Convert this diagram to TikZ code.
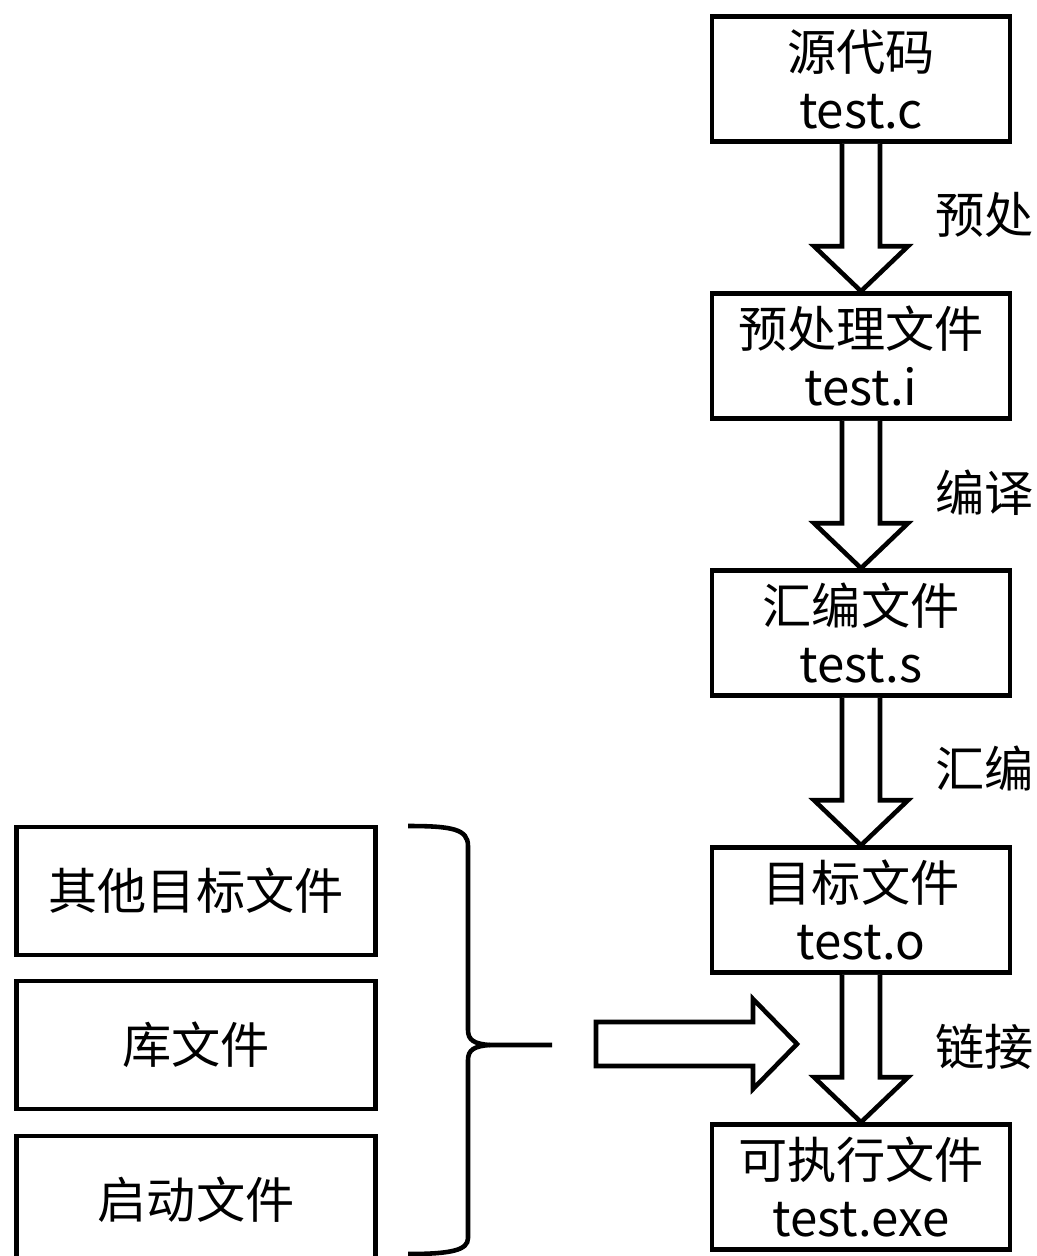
\documentclass[tikz,border=0pt]{standalone}
\usepackage{fontspec}
\setmainfont{Noto Sans CJK SC}
\usetikzlibrary{calc}

\tikzset{
    filebox/.style={draw, line width=2.6pt, minimum width=5.96cm, minimum height=2.5cm,
        align=center, inner sep=0pt, font=\fontsize{28}{33}\selectfont},
    sidebox/.style={filebox, minimum width=7.18cm, minimum height=2.56cm},
    steplabel/.style={anchor=west, inner sep=0pt, font=\fontsize{28}{33}\selectfont},
    hollow/.style={line width=2.6pt, line join=miter, fill=white},
}

\newcommand{\hollowdown}[2]{%
    \draw[hollow] ($(#1.south)+(-19,0)$) -- ($(#2.north)+(-19,-45)$) -- ($(#2.north)+(-47,-45)$)
        -- (#2.north) -- ($(#2.north)+(47,-45)$) -- ($(#2.north)+(19,-45)$) -- ($(#1.south)+(19,0)$);}

\begin{document}
\begin{tikzpicture}[x=0.02cm, y=-0.02cm]
        \useasboundingbox (0,0) rectangle (1036,1256);
        \clip (0,0) rectangle (1036,1256);

        \node[filebox] (src) at (861,79) {源代码\\test.c};
        \node[filebox] (pre) at (861,356) {预处理文件\\test.i};
        \node[filebox] (asm) at (861,633) {汇编文件\\test.s};
        \node[filebox] (obj) at (861,910) {目标文件\\test.o};
        \node[filebox] (exe) at (861,1187) {可执行文件\\test.exe};

        \hollowdown{src}{pre}
        \hollowdown{pre}{asm}
        \hollowdown{asm}{obj}
        \hollowdown{obj}{exe}

        \node[steplabel] (lpre) at (935,215) {预处};
        \node[steplabel] (lcc) at (935,493) {编译};
        \node[steplabel] (las) at (935,768) {汇编};
        \node[steplabel] (lld) at (935,1047) {链接};

        \node[sidebox] (other) at (196,891) {其他目标文件};
        \node[sidebox] (lib) at (196,1045) {库文件};
        \node[sidebox] (crt) at (196,1200) {启动文件};

        \coordinate (bracetop) at (408,826);
        \coordinate (bracetip) at (552,1045);
        \coordinate (bracebot) at (408,1254);
        \draw[line width=2.6pt] (bracetop) .. controls (452,826) and (468,829) .. (468,846)
            -- (468,1030) .. controls (468,1040) and (474,1044) .. (490,1045) -- (bracetip);
        \draw[line width=2.6pt] (490,1045) .. controls (474,1046) and (468,1050) .. (468,1060)
            -- (468,1238) .. controls (468,1250) and (452,1254) .. (bracebot);

        \coordinate (linkfrom) at (596,1044);
        \coordinate (linkto) at (797,1044);
        \draw[hollow] ($(linkfrom)+(0,-22)$) -- ($(linkto)+(-44,-22)$) -- ($(linkto)+(-44,-45)$)
            -- (linkto) -- ($(linkto)+(-44,45)$) -- ($(linkto)+(-44,22)$) -- ($(linkfrom)+(0,22)$) -- cycle;
    \end{tikzpicture}
\end{document}
